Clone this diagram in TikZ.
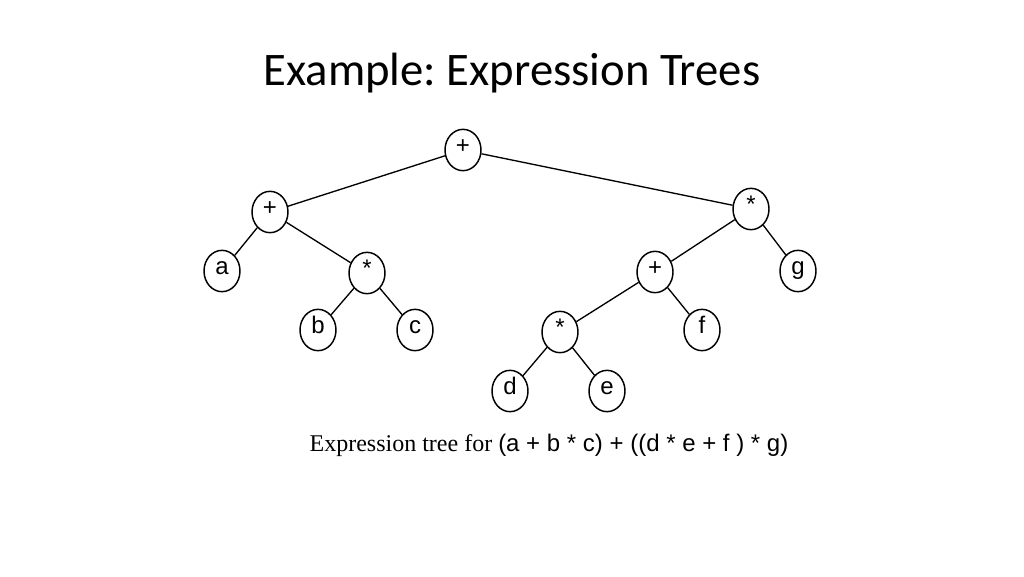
\documentclass[tikz,border=0pt]{standalone}
\usepackage{fontspec}
\setmainfont{Liberation Serif}
\newfontfamily\titlefont{Carlito}
\newfontfamily\nodefont{Liberation Sans}
\usetikzlibrary{shapes.geometric}
\frenchspacing
\begin{document}
\begin{tikzpicture}[x=0.75pt,y=-0.75pt,
 tn/.style={draw,ellipse,line width=1.1pt,minimum width=27pt,minimum height=31pt,inner sep=0pt,text height=1.5ex,text depth=0.2ex,font=\nodefont\fontsize{18}{18}\selectfont},
 ed/.style={line width=1pt}]
\useasboundingbox[fill=white] (0,0) rectangle (1024,576);
\node[font=\titlefont\fontsize{35}{38}\selectfont] (title) at (512,73) {Example: Expression Trees};
\node[tn] (r) at (463,150) {+};
\node[tn] (l) at (270,212) {+};
\node[tn] (a) at (222,271) {a};
\node[tn] (m1) at (367,273) {*};
\node[tn] (b) at (318,330) {b};
\node[tn] (c) at (415,330) {c};
\node[tn] (m2) at (751,209) {*};
\node[tn] (p2) at (655,272) {+};
\node[tn] (g) at (798,271) {g};
\node[tn] (m3) at (560,332) {*};
\node[tn] (f) at (702,330) {f};
\node[tn] (d) at (510,391) {d};
\node[tn] (e) at (607,391) {e};
\foreach \u/\v in {r/l,r/m2,l/a,l/m1,m1/b,m1/c,m2/p2,m2/g,p2/m3,p2/f,m3/d,m3/e}
  \draw[ed] (\u) -- (\v);
\node[font=\fontsize{18}{18}\selectfont] (cap) at (549,445) {Expression tree for {\nodefont (a + b * c) + ((d * e + f ) * g)}};
\end{tikzpicture}
\end{document}
